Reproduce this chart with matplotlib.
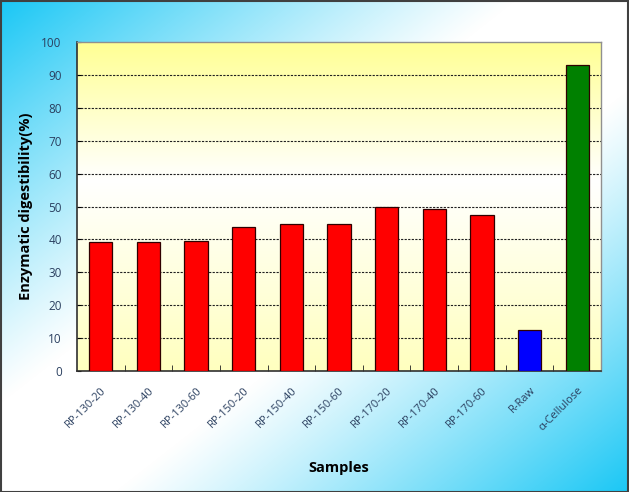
import matplotlib

matplotlib.use("Agg")
import matplotlib.pyplot as plt
import numpy as np

# data
samples = ["RP-130-20", "RP-130-40", "RP-130-60", "RP-150-20", "RP-150-40",
           "RP-150-60", "RP-170-20", "RP-170-40", "RP-170-60", "R-Raw",
           "\u03b1-Cellulose"]
digestibility = [39.2, 39.2, 39.5, 43.7, 44.8, 44.8, 49.9, 49.1, 47.5, 12.6, 92.9]
bar_colors = ["#FF0000"] * 9 + ["#0000FF", "#008000"]
yticks = list(range(0, 101, 10))

plt.rcParams["font.family"] = ["Open Sans", "DejaVu Sans"]

W, H = 629, 492
fig = plt.figure(figsize=(W / 100, H / 100), dpi=100)

# figure background: cyan corners (top-left / bottom-right), white middle
bg = fig.add_axes([0, 0, 1, 1], zorder=-10)
yy, xx = np.mgrid[0:H, 0:W]
t = (xx / W + yy / H) / 2.0
w = np.clip((np.abs(2 * t - 1) - 0.18) / 0.82, 0, 1) ** 1.1
cyan = np.array([0.10, 0.78, 0.96])
img = (1 - w[..., None]) * np.ones(3) + w[..., None] * cyan
bg.imshow(img, extent=[0, 1, 0, 1], aspect="auto", origin="upper")
bg.set_axis_off()
bg.add_patch(plt.Rectangle((0.001, 0.001), 0.998, 0.997, fill=False,
                           edgecolor="#404040", lw=1.5, transform=bg.transAxes))

ax = fig.add_axes([77 / W, 1 - 371 / H, 524 / W, 329 / H])
ax.set_facecolor("none")

# plot area: yellow at top, white in the middle, pale yellow at bottom
v = np.linspace(0, 1, 300)[:, None]
wy = np.where(v < 0.42, 1 - v / 0.42, (v - 0.42) / 0.58 * 0.6)
yellow = np.array([1.0, 1.0, 0.58])
grad = (1 - wy[..., None]) * np.ones(3) + wy[..., None] * yellow
grad = np.repeat(grad, 2, axis=1)
x = np.arange(len(samples))
ax.imshow(grad, extent=[-0.5, len(samples) - 0.5, 0, 100], aspect="auto",
          origin="upper", zorder=0)

for yv in yticks[1:-1]:
    ax.axhline(yv, color="#202020", lw=0.8, ls=(0, (2, 1.2)), zorder=1)

ax.bar(x, digestibility, width=0.49, color=bar_colors, edgecolor="#300000",
       lw=0.9, zorder=3)

ax.set_xlim(-0.5, len(samples) - 0.5)
ax.set_ylim(0, 100)
ax.set_yticks(yticks)
ax.set_yticklabels([str(v) for v in yticks], fontsize=8.5, color="#2B4060")
ax.set_xticks(x + 0.5, minor=True)
ax.set_xticks(x)
ax.set_xticklabels(samples, rotation=45, ha="right", rotation_mode="anchor",
                   fontsize=8, color="#2B4060")
ax.tick_params(axis="x", which="major", length=0, pad=10)
ax.tick_params(axis="x", which="minor", direction="in", length=4, color="#202020")
ax.tick_params(axis="y", direction="in", length=3, pad=11)

for s in ["left", "bottom"]:
    ax.spines[s].set_color("#303030")
    ax.spines[s].set_linewidth(1.2)
for s in ["top", "right"]:
    ax.spines[s].set_color("#909090")
    ax.spines[s].set_linewidth(1.0)

ax.set_ylabel("Enzymatic digestibility(%)", fontsize=10.5, fontweight="bold",
              labelpad=6)
ax.set_xlabel("Samples", fontsize=10.5, fontweight="bold", labelpad=20)

fig.savefig("out.png", dpi=100)
